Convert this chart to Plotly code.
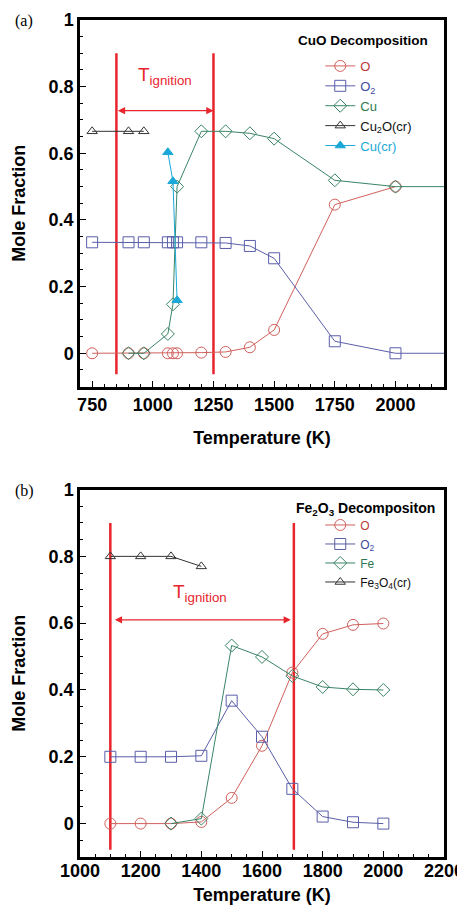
import plotly.graph_objects as go
from plotly.subplots import make_subplots

# ---------------- Data: panel (a) CuO decomposition ----------------
T_a = [750, 900, 963, 1062, 1083, 1100, 1200, 1300, 1400, 1500, 1750, 2000]
O_a = [0, 0, 0, 0, 0, 0, 0.002, 0.004, 0.018, 0.07, 0.446, 0.5]
T_a_O2 = [750, 900, 963, 1062, 1083, 1100, 1200, 1300, 1400, 1500, 1750, 2000, 2500]
O2_a = [0.333, 0.333, 0.333, 0.333, 0.333, 0.333, 0.333, 0.331, 0.322, 0.285, 0.036, 0.0, 0.0]
T_a_Cu = [900, 963, 1062, 1083, 1100, 1200, 1300, 1400, 1500, 1750, 2000, 2500]
Cu_a = [0, 0, 0.058, 0.147, 0.50, 0.666, 0.666, 0.66, 0.644, 0.519, 0.5, 0.5]
T_a_Cu2O = [750, 900, 963]
Cu2O_a = [0.666, 0.666, 0.666]
T_a_Cucr = [1062, 1083, 1100]
Cucr_a = [0.603, 0.516, 0.159]
ignition_a = [850, 1250]

# ---------------- Data: panel (b) Fe2O3 decomposition ----------------
T_b = [1100, 1200, 1300, 1400, 1500, 1600, 1700, 1800, 1900, 2000]
O_b = [0, 0, 0, 0.005, 0.077, 0.233, 0.452, 0.568, 0.595, 0.599]
O2_b = [0.2, 0.2, 0.2, 0.203, 0.368, 0.26, 0.104, 0.021, 0.004, 0.0]
T_b_Fe = [1300, 1400, 1500, 1600, 1700, 1800, 1900, 2000]
Fe_b = [0, 0.015, 0.533, 0.499, 0.442, 0.409, 0.402, 0.4]
T_b_Fe3O4 = [1100, 1200, 1300, 1400]
Fe3O4_b = [0.8, 0.8, 0.8, 0.77]
ignition_b = [1100, 1705]

C_O = "#d0605c"
C_O_TXT = "#b83a3a"
C_O2 = "#5a5ea8"
C_O2_TXT = "#3d4b9e"
C_CU = "#3a8466"
C_CU_TXT = "#2e7a50"
C_BLK = "#333333"
C_CYAN = "#1aa8d8"
C_RED = "#e8252c"

FONT = "Liberation Sans, Arial"

fig = make_subplots(rows=2, cols=1)


def series(x, y, name, color, txtcolor, symbol, row, legend, size=10):
    fig.add_trace(go.Scatter(
        x=x, y=y, mode="lines+markers",
        name=f"<span style='color:{txtcolor}'>{name}</span>",
        line=dict(color=color, width=1),
        marker=dict(symbol=symbol, size=size, color=color,
                    line=dict(color=color, width=1)),
        legend=legend,
    ), row=row, col=1)


def ignition(xs, ylo, yhi, row):
    for xv in xs:
        fig.add_trace(go.Scatter(x=[xv, xv], y=[ylo, yhi], mode="lines",
                                 line=dict(color=C_RED, width=2.5),
                                 showlegend=False, hoverinfo="skip"),
                      row=row, col=1)


# Panel (a)
ignition(ignition_a, -0.063, 0.9, 1)
series(T_a, O_a, "O", C_O, C_O_TXT, "circle-open", 1, "legend", 11)
series(T_a_O2, O2_a, "O<sub>2</sub>", C_O2, C_O2_TXT, "square-open", 1, "legend", 11)
series(T_a_Cu, Cu_a, "Cu", C_CU, C_CU_TXT, "diamond-open", 1, "legend", 10)
series(T_a_Cu2O, Cu2O_a, "Cu<sub>2</sub>O(cr)", C_BLK, "#111111", "triangle-up-open", 1, "legend", 9)
series(T_a_Cucr, Cucr_a, "Cu(cr)", C_CYAN, C_CYAN, "triangle-up", 1, "legend", 9)

# Panel (b)
ignition(ignition_b, -0.078, 0.9, 2)
series(T_b, O_b, "O", C_O, C_O_TXT, "circle-open", 2, "legend2", 11)
series(T_b, O2_b, "O<sub>2</sub>", C_O2, C_O2_TXT, "square-open", 2, "legend2", 11)
series(T_b_Fe, Fe_b, "Fe", C_CU, C_CU_TXT, "diamond-open", 2, "legend2", 10)
series(T_b_Fe3O4, Fe3O4_b, "Fe<sub>3</sub>O<sub>4</sub>(cr)", C_BLK, "#111111", "triangle-up-open", 2, "legend2", 9)

axis_common = dict(
    showline=True, linecolor="black", linewidth=2.5, mirror=True,
    ticks="inside", ticklen=6, tickwidth=1, tickcolor="black",
    showgrid=False, zeroline=False, automargin=False,
    tickfont=dict(family=FONT, size=18, color="black", weight="bold"),
)
title_font = dict(family=FONT, size=18, color="black", weight="bold")

fig.update_xaxes(**axis_common)
fig.update_yaxes(**axis_common)

# page body has an 8px margin, so the figure is 8px smaller than the window
fig.update_layout(
    width=457, height=897,
    margin=dict(l=72, r=21, t=12, b=48),
    paper_bgcolor="white", plot_bgcolor="white",
    xaxis=dict(range=[700, 2200], dtick=250, tick0=0,
               minor=dict(dtick=50, ticks="inside", ticklen=3, tickcolor="black"),
               title=dict(text="Temperature (K)", font=title_font, standoff=18)),
    yaxis=dict(domain=[0.562, 1.0], range=[-0.1, 1.0], dtick=0.2,
               minor=dict(dtick=0.05, ticks="inside", ticklen=3, tickcolor="black"),
               title=dict(text="Mole Fraction", font=title_font, standoff=19)),
    xaxis2=dict(range=[1000, 2200], dtick=200, tick0=0, ticklabelstandoff=-4,
                minor=dict(dtick=50, ticks="inside", ticklen=3, tickcolor="black"),
                title=dict(text="Temperature (K)", font=title_font, standoff=21)),
    yaxis2=dict(domain=[0.0, 0.439], range=[-0.1, 1.0], dtick=0.2,
                minor=dict(dtick=0.05, ticks="inside", ticklen=3, tickcolor="black"),
                title=dict(text="Mole Fraction", font=title_font, standoff=19)),
    legend=dict(x=0.66, y=0.963, xanchor="left", yanchor="top",
                bgcolor="rgba(0,0,0,0)", tracegroupgap=0,
                font=dict(family=FONT, size=13)),
    legend2=dict(x=0.66, y=0.414, xanchor="left", yanchor="top",
                 bgcolor="rgba(0,0,0,0)", tracegroupgap=0,
                 font=dict(family=FONT, size=12)),
    showlegend=True,
)

# Double-headed arrows and T_ignition labels
arrow_a_y = 0.728
arrow_b_y = 0.61
fig.add_annotation(x=ignition_a[1], y=arrow_a_y, ax=ignition_a[0], ay=arrow_a_y,
                   xref="x", yref="y", axref="x", ayref="y", text="",
                   showarrow=True, arrowhead=2, startarrowhead=2, arrowside="end+start",
                   arrowcolor=C_RED, arrowwidth=1.2, arrowsize=1.2, startarrowsize=1.2)
fig.add_annotation(x=ignition_b[1] - 10, y=arrow_b_y, ax=ignition_b[0] + 10, ay=arrow_b_y,
                   xref="x2", yref="y2", axref="x2", ayref="y2", text="",
                   showarrow=True, arrowhead=2, startarrowhead=2, arrowside="end+start",
                   arrowcolor=C_RED, arrowwidth=1.2, arrowsize=1.2, startarrowsize=1.2)
fig.add_annotation(x=1052, y=0.832, xref="x", yref="y", showarrow=False,
                   text="T<sub>ignition</sub>",
                   font=dict(family=FONT, size=19, color=C_RED))
fig.add_annotation(x=1395, y=0.69, xref="x2", yref="y2", showarrow=False,
                   text="T<sub>ignition</sub>",
                   font=dict(family=FONT, size=19, color=C_RED))

# Legend titles
fig.add_annotation(x=1867, y=0.94, xref="x", yref="y", showarrow=False,
                   text="<b>CuO Decomposition</b>",
                   font=dict(family=FONT, size=13.5, color="black"))
fig.add_annotation(x=1940, y=0.942, xref="x2", yref="y2", showarrow=False,
                   text="<b>Fe<sub>2</sub>O<sub>3</sub> Decompositon</b>",
                   font=dict(family=FONT, size=14, color="black"))

# Panel labels
fig.add_annotation(x=-0.184, y=0.9988, xref="paper", yref="paper", showarrow=False,
                   xanchor="left", yanchor="middle", text="(a)",
                   font=dict(family="Liberation Serif, Times New Roman", size=16, color="black"))
fig.add_annotation(x=-0.184, y=0.4367, xref="paper", yref="paper", showarrow=False,
                   xanchor="left", yanchor="middle", text="(b)",
                   font=dict(family="Liberation Serif, Times New Roman", size=16, color="black"))

fig.write_html("out.html")
